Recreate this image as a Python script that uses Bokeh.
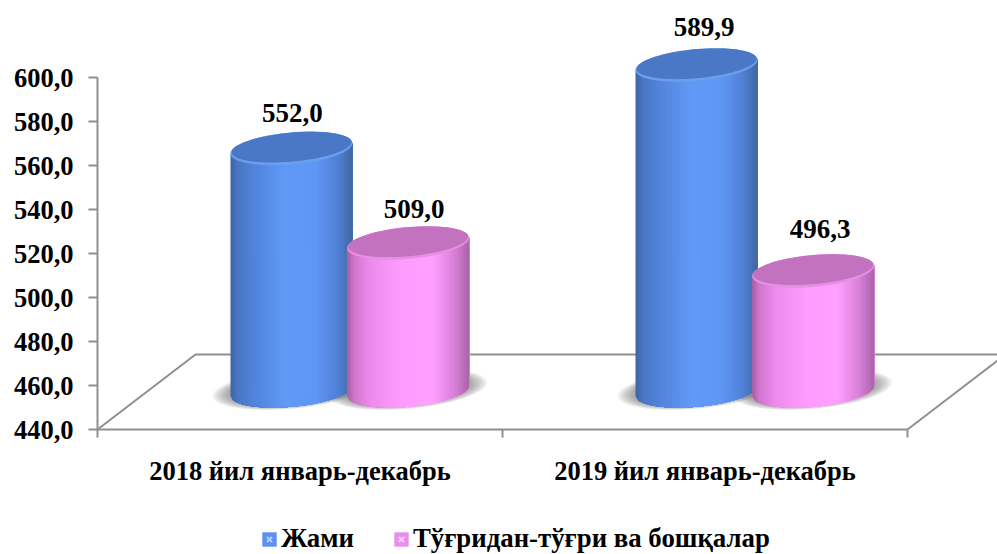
import numpy as np
from bokeh.core.properties import value
from bokeh.embed import file_html
from bokeh.models import ColumnDataSource, FixedTicker, Legend, LegendItem, LinearAxis, Range1d
from bokeh.plotting import figure
from bokeh.resources import INLINE

categories = ["2018 йил январь-декабрь", "2019 йил январь-декабрь"]
series_names = ["Жами", "Тўғридан-тўғри ва бошқалар"]
jami = [552.0, 589.9]
boshqa = [509.0, 496.3]
jami_labels = ["552,0", "589,9"]
boshqa_labels = ["509,0", "496,3"]
y_ticks = [440, 460, 480, 500, 520, 540, 560, 580, 600]
y_tick_labels = ["440,0", "460,0", "480,0", "500,0", "520,0", "540,0", "560,0", "580,0", "600,0"]

FONT = "Liberation Serif"
PX_X = 405.0      # pixels per category
PX_Y = 2.2        # pixels per value unit
GREY = "#8f8f8f"
LIFT = 16.4       # label reference lift, value units
TOP_LIFT = 15.8
BASE_LIFT = 17.6
A, B, K = 61.0, 16.0, 0.085  # half width, half depth, tilt (pixels)

blue_stops = [(0, "#3c63a6"), (.06, "#4a76c4"), (.2, "#5184db"), (.45, "#6099f7"),
              (.7, "#5f97f5"), (.88, "#5080d6"), (1, "#41679f")]
pink_stops = [(0, "#a85ca3"), (.06, "#d077cf"), (.2, "#ee8cee"), (.45, "#fe9cff"),
              (.7, "#ffa0ff"), (.88, "#d87fd7"), (1, "#a963a8")]


def mix(stops, t):
    xs = [s[0] for s in stops]
    ch = [[int(s[1][i:i + 2], 16) for s in stops] for i in (1, 3, 5)]
    return "#%02x%02x%02x" % tuple(int(round(np.interp(t, xs, c))) for c in ch)


def ellipse(cx, cy, a, b, dy_px=0.0):
    th = np.linspace(0, 2 * np.pi, 80)
    dx = a * np.cos(th)
    dy = b * np.sin(th) + K * dx + dy_px
    return cx + dx / PX_X, cy + dy / PX_Y


p = figure(frame_width=997, frame_height=554, output_backend="svg", toolbar_location=None,
           x_range=Range1d(-97 / PX_X, 900 / PX_X), y_range=Range1d(440 - 125 / PX_Y, 440 + 429 / PX_Y),
           x_axis_location=None, y_axis_location=None,
           min_border_left=0, min_border_right=0, min_border_top=0, min_border_bottom=0,
           background_fill_color="white", border_fill_color="white", outline_line_color=None)
p.grid.visible = False

# floor
p.line([0, 98 / PX_X, 908 / PX_X + 0.3], [440, 440 + 75 / PX_Y, 440 + 75 / PX_Y],
       line_color=GREY, line_width=2)
p.line([2, 2 + 98 / PX_X], [440, 440 + 75 / PX_Y], line_color=GREY, line_width=2)


def cylinder(cx, val, stops, top_col, rim_col):
    base = 440 + BASE_LIFT
    top = val + TOP_LIFT
    n = 44
    edges = np.linspace(-1, 1, n + 1)
    xs, ys, cols = [], [], []
    for i in range(n):
        # painter's order: every strip runs to the right end, so no seams show
        u = np.linspace(edges[i], 1, 60)
        low = base + (K * A * u - B * np.sqrt(np.clip(1 - u * u, 0, 1))) / PX_Y
        up = top + K * A * u / PX_Y
        xs.append(list(cx + u * A / PX_X) + list(cx + u[::-1] * A / PX_X))
        ys.append(list(up) + list(low[::-1]))
        cols.append(mix(stops, (i + .5) / n))
    p.patches(xs, ys, fill_color=cols, line_color=None)
    ex, ey = ellipse(cx, top, A, B)
    p.patch(ex, ey, fill_color=rim_col, line_color=None)
    ex, ey = ellipse(cx, top, A - 1, B - 1.5, 1.2)
    p.patch(ex, ey, fill_color=top_col, line_color=None)


groups = [(0.479, jami, blue_stops, "#4b78c6", "#6a9eee"),
          (0.767, boshqa, pink_stops, "#c272bf", "#e58ee2")]

# shadows
for off, vals, *_ in groups:
    for i in range(len(categories)):
        for grow in np.linspace(18, 0, 10):
            ex, ey = ellipse(i + off, 440 + BASE_LIFT, A + grow, B + grow * 0.2, 1.5)
            p.patch(ex, ey, fill_color="#555555", fill_alpha=0.07, line_color=None)

for i in range(len(categories)):
    for off, vals, stops, top_col, rim_col in groups:
        cylinder(i + off, vals[i], stops, top_col, rim_col)

# data labels
label_x = [0.481, 1.498, 0.782, 1.784]
label_y = [jami[0] + LIFT + 34.5 / PX_Y, jami[1] + LIFT + 37 / PX_Y,
           boshqa[0] + LIFT + 32.5 / PX_Y, boshqa[1] + LIFT + 41 / PX_Y]
p.text(label_x, label_y, text=jami_labels + boshqa_labels, text_font=value(FONT),
       text_font_style="bold", text_font_size="27px", text_color="black",
       text_align="center", text_baseline="middle")

# axes (pinned inside the frame, which fills the whole page)
yaxis = LinearAxis(ticker=FixedTicker(ticks=y_ticks), bounds=(440, 600), fixed_location=0,
                   major_label_overrides=dict(zip(y_ticks, y_tick_labels)))
yaxis.axis_line_color = GREY
yaxis.axis_line_width = 2
yaxis.major_tick_line_color = GREY
yaxis.major_tick_line_width = 2
yaxis.major_tick_in = 0
yaxis.major_tick_out = 9
yaxis.minor_tick_line_color = None
yaxis.major_label_standoff = 15
yaxis.major_label_text_font = FONT
yaxis.major_label_text_font_style = "bold"
yaxis.major_label_text_font_size = "26.5px"
yaxis.major_label_text_color = "black"
p.add_layout(yaxis, "left")

xaxis = LinearAxis(ticker=FixedTicker(ticks=[0.5, 1.5], minor_ticks=[0, 1, 2]), bounds=(0, 2),
                   fixed_location=440,
                   major_label_overrides={0.5: categories[0], 1.5: categories[1]})
xaxis.axis_line_color = GREY
xaxis.axis_line_width = 2
xaxis.major_tick_line_color = None
xaxis.minor_tick_line_color = GREY
xaxis.minor_tick_line_width = 2
xaxis.minor_tick_in = 0
xaxis.minor_tick_out = 8
xaxis.major_label_standoff = 18
xaxis.major_label_text_font = FONT
xaxis.major_label_text_font_style = "bold"
xaxis.major_label_text_font_size = "26.5px"
xaxis.major_label_text_color = "black"
p.add_layout(xaxis, "below")

# legend swatches (empty sources: they only show in the legend)
empty = ColumnDataSource(dict(x=[np.nan], y=[np.nan]))
items = []
for name, main, light in zip(series_names, ["#5c92ec", "#e88fe8"], ["#b4d0fa", "#fad0fa"]):
    r1 = p.rect("x", "y", width=1, height=1, source=empty, fill_color=main, line_color=None)
    r2 = p.scatter("x", "y", source=empty, marker="x", size=8, line_color=light, line_width=2)
    items.append(LegendItem(label=name, renderers=[r1, r2]))
legend = Legend(items=items, orientation="horizontal", location=(260, 0), margin=0, padding=0,
                spacing=38, glyph_width=18, glyph_height=18, label_standoff=3,
                background_fill_alpha=0, border_line_color=None,
                label_text_font=FONT, label_text_font_style="bold",
                label_text_font_size="26.8px", label_text_color="black")
p.add_layout(legend)

open("out.html", "w").write(file_html(p, INLINE))
